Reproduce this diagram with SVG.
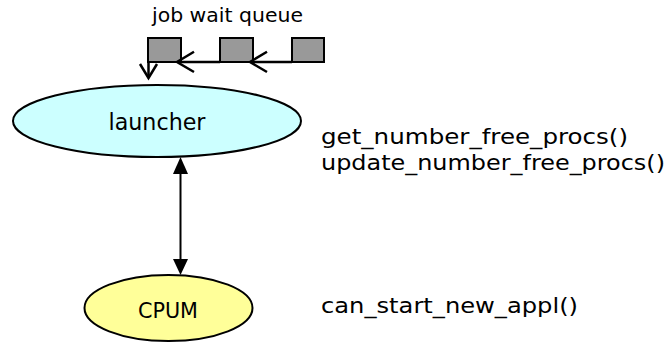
<svg xmlns="http://www.w3.org/2000/svg" width="672" height="345" viewBox="0 0 672 345">
<defs>
<style>
text{font-family:"DejaVu Sans","Liberation Sans",sans-serif;fill:#000}
.box{fill:#999999;stroke:#000;stroke-width:2}
.ln{fill:none;stroke:#000;stroke-width:2.5}
.head{fill:#000}
.lbl{font-size:21px}
</style>
</defs>
<rect width="672" height="345" fill="#fff"/>
<g id="queue">
<text x="152" y="22" font-size="19" textLength="151" lengthAdjust="spacingAndGlyphs">job wait queue</text>
<rect class="box" x="148" y="38" width="33" height="24"/>
<rect class="box" x="220" y="38" width="33" height="24"/>
<rect class="box" x="292" y="38" width="32" height="24"/>
</g>
<g id="launcher">
<ellipse cx="157" cy="121" rx="144" ry="36" fill="#CCFFFF" stroke="#000" stroke-width="2"/>
<text x="157" y="130" font-size="23" text-anchor="middle" textLength="97" lengthAdjust="spacingAndGlyphs">launcher</text>
</g>
<g id="cpum">
<ellipse cx="168.5" cy="308" rx="84" ry="33" fill="#FFFF99" stroke="#000" stroke-width="2"/>
<text x="168" y="318" font-size="21" text-anchor="middle" textLength="60" lengthAdjust="spacingAndGlyphs">CPUM</text>
</g>
<g id="connectors">
<path class="ln" d="M292,62 L252,62"/>
<path class="ln" d="M267,51.7 L250,62 L267,72"/>
<path class="ln" d="M220,62 L179,62"/>
<path class="ln" d="M194,51.7 L177,62 L194,72"/>
<path class="ln" d="M148.5,62 L148.5,78"/>
<path class="ln" d="M140,64 L148.5,78 L157,64"/>
<path class="ln" d="M180.5,172 L180.5,262" style="stroke-width:2"/>
<path class="head" d="M180.5,157 L173,174 L188,174 Z"/>
<path class="head" d="M180.5,275 L173,259 L188,259 Z"/>
</g>
<g id="labels">
<text class="lbl" x="321" y="144" textLength="307" lengthAdjust="spacingAndGlyphs">get_number_free_procs()</text>
<text class="lbl" x="321" y="170" textLength="344" lengthAdjust="spacingAndGlyphs">update_number_free_procs()</text>
<text class="lbl" x="321" y="313" textLength="257" lengthAdjust="spacingAndGlyphs">can_start_new_appl()</text>
</g>
</svg>
